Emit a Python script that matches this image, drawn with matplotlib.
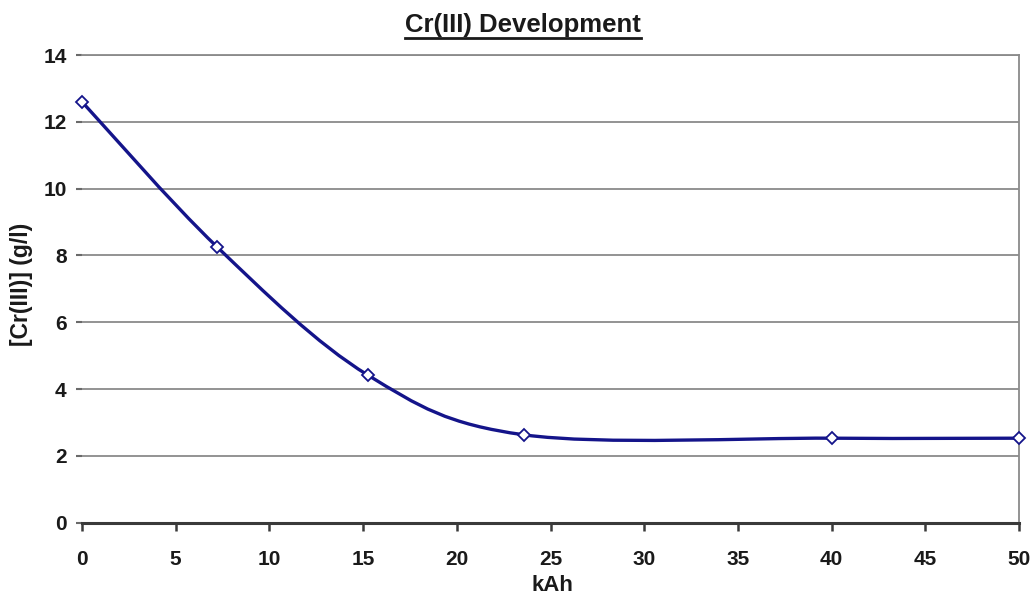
import matplotlib
matplotlib.use("Agg")
import matplotlib.pyplot as plt
from matplotlib.path import Path
from matplotlib.patches import PathPatch
import numpy as np

# Data
kah = [0.0, 7.2, 15.25, 23.6, 40.0, 50.0]
cr3 = [12.6, 8.26, 4.42, 2.63, 2.53, 2.53]
xticks = [0, 5, 10, 15, 20, 25, 30, 35, 40, 45, 50]
yticks = [0, 2, 4, 6, 8, 10, 12, 14]

plt.rcParams['font.family'] = ['Liberation Sans', 'DejaVu Sans']

fig = plt.figure(figsize=(10.34, 5.98), dpi=100)
ax = fig.add_axes([0.0793, 0.1259, 0.9062, 0.7821])
ax.set_xlim(0, 50)
ax.set_ylim(0, 14)

# Smoothed line (Excel-style Bezier through the data points)
x = np.asarray(kah)
y = np.asarray(cr3)
n = len(x)
verts = [(x[0], y[0])]
codes = [Path.MOVETO]
for i in range(n - 1):
    xm = x[i - 1] if i > 0 else x[i]
    ym = y[i - 1] if i > 0 else y[i]
    xp = x[i + 2] if i + 2 < n else x[i + 1]
    yp = y[i + 2] if i + 2 < n else y[i + 1]
    c1 = (x[i] + (x[i + 1] - xm) / 6.0, y[i] + (y[i + 1] - ym) / 6.0)
    c2 = (x[i + 1] - (xp - x[i]) / 6.0, y[i + 1] - (yp - y[i]) / 6.0)
    verts += [c1, c2, (x[i + 1], y[i + 1])]
    codes += [Path.CURVE4, Path.CURVE4, Path.CURVE4]
patch = PathPatch(Path(verts, codes), facecolor='none', edgecolor='#14148a',
                  linewidth=2.4, zorder=3, capstyle='round', joinstyle='round')
ax.add_patch(patch)
ax.plot(kah, cr3, linestyle='none', marker='D', markersize=6.5,
        markerfacecolor='white', markeredgecolor='#14148a',
        markeredgewidth=1.3, zorder=4, clip_on=False)

# Grid
ax.set_yticks(yticks)
ax.set_xticks(xticks)
ax.yaxis.grid(True, color='#8a8a8a', linewidth=1.3)
ax.set_axisbelow(True)

for s in ['top', 'right']:
    ax.spines[s].set_color('#8a8a8a')
    ax.spines[s].set_linewidth(1.3)
ax.spines['left'].set_visible(False)
ax.spines['bottom'].set_color('#3a3a3a')
ax.spines['bottom'].set_linewidth(2.2)

ax.tick_params(axis='x', direction='out', length=6, width=1.8, color='#3a3a3a',
               labelsize=15, pad=14)
ax.tick_params(axis='y', direction='out', length=4, width=1.5, color='#6a6a6a',
               labelsize=15, pad=7)
for lbl in ax.get_xticklabels() + ax.get_yticklabels():
    lbl.set_fontweight('bold')
    lbl.set_color('#1a1a1a')

ax.set_xlabel('kAh', fontsize=16, fontweight='bold', color='#1a1a1a', va='bottom')
ax.xaxis.set_label_coords(0.502, -0.157)
ax.set_ylabel('[Cr(III)] (g/l)', fontsize=16.5, fontweight='bold', color='#1a1a1a')
ax.yaxis.set_label_coords(-0.052, 0.509)

title = fig.text(0.506, 0.9465, 'Cr(III) Development', ha='center', va='baseline',
                 fontsize=18.5, fontweight='bold', color='#1a1a1a')
# underline
fig.canvas.draw()
bb = title.get_window_extent()
inv = fig.transFigure.inverted()
(x0, y0), (x1, y1) = inv.transform([(bb.x0, bb.y0), (bb.x1, bb.y0)])
fig.add_artist(plt.Line2D([x0, x1], [y0 - 0.001, y0 - 0.001],
                          transform=fig.transFigure, color='#1a1a1a', linewidth=2.0))

fig.savefig('out.png', dpi=100)
